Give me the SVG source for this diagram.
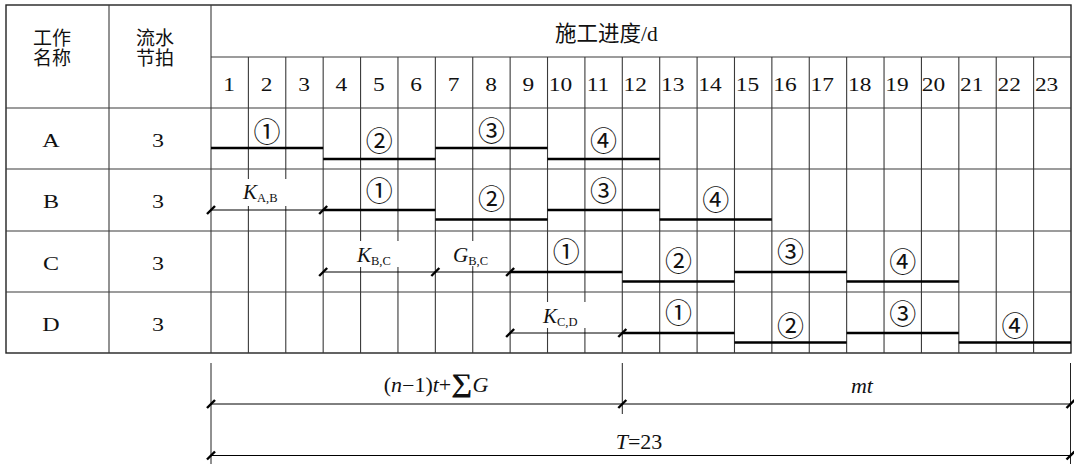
<svg xmlns="http://www.w3.org/2000/svg" width="1074" height="464" viewBox="0 0 1074 464">
  <defs>
    <style>
      .frame { fill: none; stroke: #222; stroke-width: 1.4; }
      .grid { fill: none; stroke: #3a3a3a; stroke-width: 1.1; }
      .mask { fill: #fff; stroke: none; }
      .bar { stroke: #000; stroke-width: 2.6; fill: none; }
      .dim { stroke: #000; stroke-width: 1; fill: none; }
      .ext { stroke: #222; stroke-width: 1; fill: none; }
      .tick { stroke: #000; stroke-width: 2.4; stroke-linecap: butt; }
      .cjk { font-family: "Liberation Serif", "Noto Sans CJK SC", sans-serif; fill: #111; }
      .hd { font-size: 19px; text-anchor: middle; }
      .title { font-size: 21.5px; }
      .num { font-family: "Liberation Serif", serif; font-size: 18px; fill: #111; text-anchor: middle;
             transform-box: fill-box; transform-origin: center; transform: scaleX(1.3); }
      .lbl { font-size: 18.5px; }
      .circ { font-family: "Noto Sans CJK SC", "DejaVu Sans", sans-serif; font-size: 27px; fill: #111; text-anchor: middle; }
      .math { font-family: "Liberation Serif", serif; font-size: 21px; fill: #111; }
      .it { font-style: italic; }
      .sub { font-size: 12.5px; font-style: normal; }
      .dimtxt { font-family: "Liberation Serif", serif; font-size: 20px; fill: #111;
                transform-box: fill-box; transform-origin: center; transform: scaleX(1.1); }
    </style>
    <path id="tk" class="tick" d="M-4,4 L4,-4"/>
  </defs>

  <rect width="1074" height="464" fill="#fff"/>

  <!-- table grid -->
  <g id="grid">
    <rect class="frame" x="6" y="5" width="1065" height="348"/>
    <path class="grid" d="M109,5 V353 M211,5 V353
      M211,57 H1071
      M6,108 H1071 M6,169 H1071 M6,231 H1071 M6,292 H1071"/>
    <path class="grid" d="
      M248.39,57 V353 M285.78,57 V353 M323.17,57 V353 M360.57,57 V353
      M397.96,57 V353 M435.35,57 V353 M472.74,57 V353 M510.13,57 V353
      M547.52,57 V353 M584.91,57 V353 M622.30,57 V353 M659.70,57 V353
      M697.09,57 V353 M734.48,57 V353 M771.87,57 V353 M809.26,57 V353
      M846.65,57 V353 M884.04,57 V353 M921.43,57 V353 M958.83,57 V353
      M996.22,57 V353 M1033.61,57 V353"/>
    <!-- clear space behind the interval labels -->
    <rect class="mask" x="238" y="179" width="54" height="27"/>
    <rect class="mask" x="350" y="241" width="55" height="26"/>
    <rect class="mask" x="447" y="241" width="52" height="25"/>
    <rect class="mask" x="538" y="302" width="56" height="26"/>
  </g>

  <!-- header -->
  <g id="header">
    <text class="cjk hd" x="52" y="45">工作<tspan x="52" dy="20">名称</tspan></text>
    <text class="cjk hd" x="155" y="45">流水<tspan x="155" dy="20">节拍</tspan></text>
    <text class="cjk title" x="555" y="41">施工进度/d</text>
  </g>

  <!-- day numbers -->
  <g id="days">
    <text class="num" x="229.2" y="91">1</text>
    <text class="num" x="266.6" y="91">2</text>
    <text class="num" x="304" y="91">3</text>
    <text class="num" x="341.4" y="91">4</text>
    <text class="num" x="378.8" y="91">5</text>
    <text class="num" x="416.2" y="91">6</text>
    <text class="num" x="453.6" y="91">7</text>
    <text class="num" x="491" y="91">8</text>
    <text class="num" x="528.3" y="91">9</text>
    <text class="num" x="560.5" y="91">10</text>
    <text class="num" x="597.9" y="91">11</text>
    <text class="num" x="635.3" y="91">12</text>
    <text class="num" x="672.7" y="91">13</text>
    <text class="num" x="710.1" y="91">14</text>
    <text class="num" x="747.5" y="91">15</text>
    <text class="num" x="784.9" y="91">16</text>
    <text class="num" x="822.3" y="91">17</text>
    <text class="num" x="859.7" y="91">18</text>
    <text class="num" x="897" y="91">19</text>
    <text class="num" x="933.4" y="91">20</text>
    <text class="num" x="971.8" y="91">21</text>
    <text class="num" x="1009.2" y="91">22</text>
    <text class="num" x="1046.6" y="91">23</text>
  </g>

  <!-- process A -->
  <g id="row-A">
    <text class="num lbl" x="51" y="147">A</text>
    <text class="num lbl" x="158" y="147">3</text>
    <path class="bar" d="M211,148 H323.17 M323.17,159 H435.35 M435.35,148 H547.52 M547.52,159 H659.70"/>
    <text class="circ" x="267.1" y="141.5">①</text>
    <text class="circ" x="379.3" y="150.5">②</text>
    <text class="circ" x="491.4" y="140.5">③</text>
    <text class="circ" x="603.6" y="150.5">④</text>
  </g>

  <!-- process B -->
  <g id="row-B">
    <text class="num lbl" x="51" y="208">B</text>
    <text class="num lbl" x="158" y="208">3</text>
    <path class="dim" d="M211,210 H323.17"/>
    <use href="#tk" x="211" y="210"/>
    <use href="#tk" x="323.17" y="210"/>
    <text class="math it" x="243" y="199">K<tspan class="sub" dy="3">A,B</tspan></text>
    <path class="bar" d="M323.17,210 H435.35 M435.35,219.5 H547.52 M547.52,210 H659.70 M659.70,219.5 H771.87"/>
    <text class="circ" x="379.3" y="201">①</text>
    <text class="circ" x="491.4" y="209">②</text>
    <text class="circ" x="603.6" y="200.5">③</text>
    <text class="circ" x="715.8" y="209.5">④</text>
  </g>

  <!-- process C -->
  <g id="row-C">
    <text class="num lbl" x="51" y="270">C</text>
    <text class="num lbl" x="158" y="270">3</text>
    <path class="dim" d="M323.17,272 H510.13"/>
    <use href="#tk" x="323.17" y="272"/>
    <use href="#tk" x="435.35" y="272"/>
    <use href="#tk" x="510.13" y="272"/>
    <text class="math it" x="357" y="262">K<tspan class="sub" dy="3">B,C</tspan></text>
    <text class="math it" x="453" y="262">G<tspan class="sub" dy="3">B,C</tspan></text>
    <path class="bar" d="M510.13,272 H622.30 M622.30,281.5 H734.48 M734.48,272 H846.65 M846.65,281.5 H958.83"/>
    <text class="circ" x="566.2" y="262">①</text>
    <text class="circ" x="678.4" y="270.5">②</text>
    <text class="circ" x="790.6" y="262">③</text>
    <text class="circ" x="902.7" y="271.5">④</text>
  </g>

  <!-- process D -->
  <g id="row-D">
    <text class="num lbl" x="51" y="331">D</text>
    <text class="num lbl" x="158" y="331">3</text>
    <path class="dim" d="M510.13,333 H622.30"/>
    <use href="#tk" x="510.13" y="333"/>
    <use href="#tk" x="622.30" y="333"/>
    <text class="math it" x="543" y="323">K<tspan class="sub" dy="3">C,D</tspan></text>
    <path class="bar" d="M622.30,333 H734.48 M734.48,342.5 H846.65 M846.65,333 H958.83 M958.83,342.5 H1071"/>
    <text class="circ" x="678.4" y="323">①</text>
    <text class="circ" x="790.6" y="335.5">②</text>
    <text class="circ" x="902.7" y="324">③</text>
    <text class="circ" x="1014.9" y="336">④</text>
  </g>

  <!-- overall duration dimensions -->
  <g id="dimensions">
    <path class="ext" d="M211,363 V464 M622.30,363 V414 M1070.5,363 V464"/>
    <path class="dim" d="M211,404 H1071 M211,455.5 H1071"/>
    <use href="#tk" x="211" y="404"/>
    <use href="#tk" x="622.30" y="404"/>
    <use href="#tk" x="1070.5" y="404"/>
    <use href="#tk" x="211" y="455.5"/>
    <use href="#tk" x="1070.5" y="455.5"/>
    <text class="dimtxt" x="436" y="392" text-anchor="middle">(<tspan class="it">n</tspan>−1)<tspan class="it">t</tspan>+<tspan font-weight="bold" font-size="27">∑</tspan><tspan class="it">G</tspan></text>
    <text class="dimtxt it" x="862" y="393" text-anchor="middle">mt</text>
    <text class="dimtxt" x="639" y="449" text-anchor="middle"><tspan class="it">T</tspan>=23</text>
  </g>
</svg>
